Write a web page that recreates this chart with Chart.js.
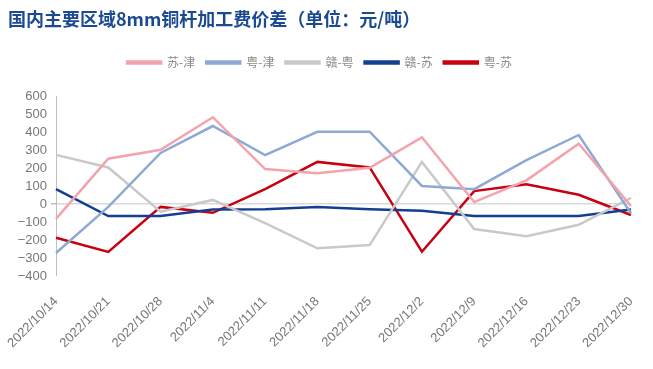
<!DOCTYPE html>
<html>
<head>
<meta charset="utf-8">
<script src="https://cdn.jsdelivr.net/npm/chart.js@4.4.1/dist/chart.umd.min.js"></script>
<style>
  html, body { margin: 0; padding: 0; background: #fff; }
  #wrap { width: 653px; height: 369px; position: relative; }
</style>
</head>
<body>
<div id="wrap"><canvas id="chart"></canvas></div>
<script>
const dates = ["2022/10/14", "2022/10/21", "2022/10/28", "2022/11/4", "2022/11/11", "2022/11/18",
  "2022/11/25", "2022/12/2", "2022/12/9", "2022/12/16", "2022/12/23", "2022/12/30"];
const suJin = [-82, 254, 304, 485, 196, 172, 203, 373, 12, 133, 337, -10];
const yueJin = [-272, -15, 286, 436, 274, 404, 404, 102, 84, 246, 386, -50];
const ganYue = [275, 205, -42, 24, -106, -246, -228, 236, -138, -178, -115, 35];
const ganSu = [84, -66, -66, -30, -28, -15, -28, -37, -66, -66, -66, -30];
const yueSu = [-187, -266, -15, -48, 84, 236, 205, -265, 73, 111, 53, -60];
const yTicks = [600, 500, 400, 300, 200, 100, 0, -100, -200, -300, -400];

function line(label, data, color) {
  return {
    label: label,
    data: data,
    borderColor: color,
    backgroundColor: color,
    borderWidth: 2.5,
    pointRadius: 0,
    tension: 0,
  };
}

// extra room under the legend
const legendGap = {
  id: "legendGap",
  beforeInit(chart) {
    const fit = chart.legend.fit;
    chart.legend.fit = function () {
      fit.bind(chart.legend)();
      this.height += 18;
    };
  },
};

new Chart(document.getElementById("chart"), {
  type: "line",
  data: {
    labels: dates,
    datasets: [
      line("苏-津", suJin, "#f4a3ad"),
      line("粤-津", yueJin, "#8eaad4"),
      line("赣-粤", ganYue, "#c9c9c9"),
      line("赣-苏", ganSu, "#123f8f"),
      line("粤-苏", yueSu, "#c8000f"),
    ],
  },
  plugins: [legendGap],
  options: {
    responsive: true,
    maintainAspectRatio: false,
    animation: false,
    layout: {
      padding: { left: 8, right: 22, top: 0, bottom: 8 },
    },
    plugins: {
      title: {
        display: true,
        text: "国内主要区域8mm铜杆加工费价差（单位：元/吨）",
        align: "start",
        color: "#1c4a92",
        font: { family: "'Noto Sans CJK SC'", size: 18, weight: "bold" },
        padding: { top: 8, bottom: 16 },
      },
      legend: {
        position: "top",
        labels: {
          boxWidth: 34,
          boxHeight: 2,
          color: "#8a8a8a",
          font: { family: "'Noto Sans CJK SC'", size: 12 },
          padding: 11,
        },
      },
      tooltip: { enabled: false },
    },
    scales: {
      x: {
        grid: { display: false },
        border: { display: false },
        ticks: {
          color: "#777",
          font: { family: "Arial, 'Liberation Sans'", size: 13 },
          maxRotation: 45,
          minRotation: 45,
          autoSkip: false,
          padding: 10,
        },
      },
      y: {
        min: -400,
        max: 600,
        afterBuildTicks: (scale) => {
          scale.ticks = yTicks.map((v) => ({ value: v }));
        },
        afterFit: (scale) => {
          scale.width = 44;
        },
        border: { display: true, color: "#bfbfbf", width: 1 },
        grid: {
          drawOnChartArea: true,
          color: (ctx) => (ctx.tick && ctx.tick.value === 0 ? "#d9d9d9" : "rgba(0,0,0,0)"),
          lineWidth: (ctx) => (ctx.tick && ctx.tick.value === 0 ? 1.5 : 0),
          tickColor: "#bfbfbf",
          tickLength: 5,
        },
        ticks: {
          autoSkip: false,
          stepSize: 100,
          color: "#777",
          font: { family: "Arial, 'Liberation Sans'", size: 13 },
          padding: 4,
          callback: (v) => String(v).replace("-", "\u2212"),
        },
      },
    },
  },
});
</script>
</body>
</html>
